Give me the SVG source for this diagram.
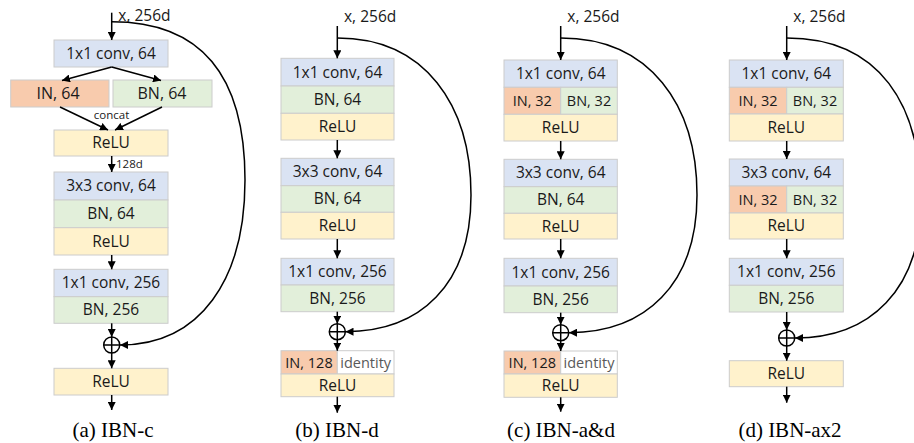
<svg xmlns="http://www.w3.org/2000/svg" width="914" height="443" viewBox="0 0 914 443">
<defs>
<marker id="ah" viewBox="0 0 10 10" refX="10" refY="5" markerWidth="8" markerHeight="8" markerUnits="userSpaceOnUse" orient="auto">
<path d="M0,0 L10,5 L0,10 z" fill="#000"/>
</marker>
<style>
rect{stroke:#cccccc;stroke-width:1}
.cv{fill:#dae3f3}
.bn{fill:#e2efda}
.re{fill:#fff2cc}
.in{fill:#f8cbad}
.id{fill:#ffffff}
text{font-family:"Open Sans","DejaVu Sans",sans-serif;fill:#1a1a1a}
.t{font-size:15.5px;text-anchor:middle}
.s{font-size:14.5px;text-anchor:middle}
.b{font-size:16px;text-anchor:middle}
.g{fill:#595959}
.x{font-size:15.5px}
.sm{font-size:11.5px}
.cap{font-family:"Liberation Serif","Times New Roman",serif;font-size:21px;text-anchor:middle;fill:#000}
.ln{fill:none;stroke:#000;stroke-width:1.5;marker-end:url(#ah)}
.cu{fill:none;stroke:#000;stroke-width:1.5;marker-end:url(#ah)}
.pl{fill:#fff;stroke:#000;stroke-width:1.5}
.pc{stroke:#000;stroke-width:1.5}
</style>
</defs>

<!-- Panel (a) -->
<g id="a-input"><text class="x" x="118.3" y="20.7">x, 256d</text></g>
<g id="a-conv1"><rect class="cv" x="54" y="40" width="114" height="27"/><text class="t" x="111" y="58.8">1x1 conv, 64</text></g>
<g id="a-in64"><rect class="in" x="10.7" y="80" width="98.3" height="27"/><text class="b" x="58" y="99.3">IN, 64</text></g>
<g id="a-bn64"><rect class="bn" x="113" y="80" width="99" height="27"/><text class="b" x="162" y="99.3">BN, 64</text></g>
<g id="a-concat"><text class="sm" x="111.5" y="119.3" text-anchor="middle">concat</text></g>
<g id="a-relu1"><rect class="re" x="54" y="130" width="114" height="26"/><text class="t" x="111" y="148.3">ReLU</text></g>
<g id="a-128d"><text class="sm" x="116" y="168">128d</text></g>
<g id="a-conv2"><rect class="cv" x="54" y="172" width="114" height="28"/><text class="t" x="111" y="191.3">3x3 conv, 64</text></g>
<g id="a-bn2"><rect class="bn" x="54" y="200" width="114" height="27.7"/><text class="t" x="111" y="219.1">BN, 64</text></g>
<g id="a-relu2"><rect class="re" x="54" y="227.7" width="114" height="27.3"/><text class="t" x="111" y="246.6">ReLU</text></g>
<g id="a-conv3"><rect class="cv" x="54" y="269.3" width="114" height="27.4"/><text class="t" x="111" y="288.3">1x1 conv, 256</text></g>
<g id="a-bn3"><rect class="bn" x="54" y="296.7" width="114" height="26.6"/><text class="t" x="111" y="315.3">BN, 256</text></g>
<g id="a-relu3"><rect class="re" x="54" y="368.3" width="114" height="26.7"/><text class="t" x="111" y="387">ReLU</text></g>
<g id="a-caption"><text class="cap" x="113" y="437">(a) IBN-c</text></g>

<!-- Panel (b) -->
<g id="b-input"><text class="x" x="344" y="21.7">x, 256d</text></g>
<g id="b-conv1"><rect class="cv" x="281" y="58.3" width="113" height="27.7"/><text class="t" x="337.5" y="77.5">1x1 conv, 64</text></g>
<g id="b-bn1"><rect class="bn" x="281" y="86" width="113" height="27.3"/><text class="t" x="337.5" y="105">BN, 64</text></g>
<g id="b-relu1"><rect class="re" x="281" y="113.3" width="113" height="26.7"/><text class="t" x="337.5" y="132">ReLU</text></g>
<g id="b-conv2"><rect class="cv" x="281" y="158.3" width="113" height="27.4"/><text class="t" x="337.5" y="177.3">3x3 conv, 64</text></g>
<g id="b-bn2"><rect class="bn" x="281" y="185.7" width="113" height="26.6"/><text class="t" x="337.5" y="204.3">BN, 64</text></g>
<g id="b-relu2"><rect class="re" x="281" y="212.3" width="113" height="26.7"/><text class="t" x="337.5" y="231">ReLU</text></g>
<g id="b-conv3"><rect class="cv" x="281" y="258.3" width="113" height="26.7"/><text class="t" x="337.5" y="277">1x1 conv, 256</text></g>
<g id="b-bn3"><rect class="bn" x="281" y="285" width="113" height="26.7"/><text class="t" x="337.5" y="303.7">BN, 256</text></g>
<g id="b-in128"><rect class="in" x="281" y="350.7" width="56.3" height="23.3"/><text class="s" x="309" y="367.5">IN, 128</text></g>
<g id="b-identity"><rect class="id" x="337.3" y="350.7" width="56.7" height="23.3"/><text class="s g" x="365.7" y="367.5">identity</text></g>
<g id="b-relu3"><rect class="re" x="281" y="374" width="113" height="22.7"/><text class="t" x="337.5" y="390.7">ReLU</text></g>
<g id="b-caption"><text class="cap" x="337" y="437">(b) IBN-d</text></g>

<!-- Panel (c) -->
<g id="c-input"><text class="x" x="567.3" y="21.7">x, 256d</text></g>
<g id="c-conv1"><rect class="cv" x="504" y="60" width="113.3" height="27.3"/><text class="t" x="560.7" y="79">1x1 conv, 64</text></g>
<g id="c-in32"><rect class="in" x="504" y="87.3" width="56.7" height="27"/><text class="s" x="532.3" y="105.8">IN, 32</text></g>
<g id="c-bn32"><rect class="bn" x="560.7" y="87.3" width="56.6" height="27"/><text class="s" x="589" y="105.8">BN, 32</text></g>
<g id="c-relu1"><rect class="re" x="504" y="114.3" width="113.3" height="26.7"/><text class="t" x="560.7" y="133">ReLU</text></g>
<g id="c-conv2"><rect class="cv" x="504" y="159.3" width="113.3" height="27.4"/><text class="t" x="560.7" y="178.3">3x3 conv, 64</text></g>
<g id="c-bn2"><rect class="bn" x="504" y="186.7" width="113.3" height="26.6"/><text class="t" x="560.7" y="205.3">BN, 64</text></g>
<g id="c-relu2"><rect class="re" x="504" y="213.3" width="113.3" height="25.7"/><text class="t" x="560.7" y="231.5">ReLU</text></g>
<g id="c-conv3"><rect class="cv" x="504" y="258.3" width="113.3" height="27.7"/><text class="t" x="560.7" y="277.5">1x1 conv, 256</text></g>
<g id="c-bn3"><rect class="bn" x="504" y="286" width="113.3" height="26.7"/><text class="t" x="560.7" y="304.7">BN, 256</text></g>
<g id="c-in128"><rect class="in" x="504" y="351" width="56.7" height="23"/><text class="s" x="532.3" y="367.5">IN, 128</text></g>
<g id="c-identity"><rect class="id" x="560.7" y="351" width="56.6" height="23"/><text class="s g" x="589" y="367.5">identity</text></g>
<g id="c-relu3"><rect class="re" x="504" y="374" width="113.3" height="23.3"/><text class="t" x="560.7" y="391">ReLU</text></g>
<g id="c-caption"><text class="cap" x="561" y="437">(c) IBN-a&amp;d</text></g>

<!-- Panel (d) -->
<g id="d-input"><text class="x" x="793.3" y="21.7">x, 256d</text></g>
<g id="d-conv1"><rect class="cv" x="729.3" y="60" width="114" height="27.3"/><text class="t" x="786.3" y="79">1x1 conv, 64</text></g>
<g id="d-in32a"><rect class="in" x="729.3" y="87.3" width="57.4" height="26.7"/><text class="s" x="758" y="105.7">IN, 32</text></g>
<g id="d-bn32a"><rect class="bn" x="786.7" y="87.3" width="56.6" height="26.7"/><text class="s" x="815" y="105.7">BN, 32</text></g>
<g id="d-relu1"><rect class="re" x="729.3" y="114" width="114" height="27"/><text class="t" x="786.3" y="132.8">ReLU</text></g>
<g id="d-conv2"><rect class="cv" x="729.3" y="159" width="114" height="27"/><text class="t" x="786.3" y="177.8">3x3 conv, 64</text></g>
<g id="d-in32b"><rect class="in" x="729.3" y="186" width="57.4" height="27"/><text class="s" x="758" y="204.5">IN, 32</text></g>
<g id="d-bn32b"><rect class="bn" x="786.7" y="186" width="56.6" height="27"/><text class="s" x="815" y="204.5">BN, 32</text></g>
<g id="d-relu2"><rect class="re" x="729.3" y="213" width="114" height="26"/><text class="t" x="786.3" y="231.3">ReLU</text></g>
<g id="d-conv3"><rect class="cv" x="729.3" y="258.3" width="114" height="27"/><text class="t" x="786.3" y="277.1">1x1 conv, 256</text></g>
<g id="d-bn3"><rect class="bn" x="729.3" y="285.3" width="114" height="26.7"/><text class="t" x="786.3" y="304">BN, 256</text></g>
<g id="d-relu3"><rect class="re" x="729.3" y="360.7" width="114" height="26"/><text class="t" x="786.3" y="379">ReLU</text></g>
<g id="d-caption"><text class="cap" x="790" y="437">(d) IBN-ax2</text></g>

<!-- Sum nodes -->
<g id="a-sum"><circle class="pl" cx="111.7" cy="345" r="8"/><path class="pc" d="M103.7,345 H119.7 M111.7,337 V353"/></g>
<g id="b-sum"><circle class="pl" cx="337.3" cy="331.7" r="8"/><path class="pc" d="M329.3,331.7 H345.3 M337.3,323.7 V339.7"/></g>
<g id="c-sum"><circle class="pl" cx="560.7" cy="332.7" r="8"/><path class="pc" d="M552.7,332.7 H568.7 M560.7,324.7 V340.7"/></g>
<g id="d-sum"><circle class="pl" cx="786.7" cy="338" r="8"/><path class="pc" d="M778.7,338 H794.7 M786.7,330 V346"/></g>

<!-- Connectors -->
<g id="connectors">
<path class="ln" d="M111.7,12.7 V40"/>
<path class="ln" d="M111.7,67 L62,80.5"/>
<path class="ln" d="M111.7,67 L161,80.5"/>
<path class="ln" d="M60,107 L108,130"/>
<path class="ln" d="M162,107 L115,130"/>
<path class="ln" d="M111.7,156 V172"/>
<path class="ln" d="M111.7,255 V269.3"/>
<path class="ln" d="M111.7,323.3 V337"/>
<path class="ln" d="M111.7,353 V368.3"/>
<path class="ln" d="M111.7,395 V410"/>
<path class="cu" d="M111.7,21.7 C205,21.7 245,80 245,180 C245,280 200,345 120,345"/>

<path class="ln" d="M337.3,26 V58.3"/>
<path class="ln" d="M337.3,140 V158.3"/>
<path class="ln" d="M337.3,239 V258.3"/>
<path class="ln" d="M337.3,311.7 V323.7"/>
<path class="ln" d="M337.3,339.7 V350.7"/>
<path class="ln" d="M337.3,396.7 V412.7"/>
<path class="cu" d="M337.3,38 C425,38 471,105 471,195 C471,285 420,331.7 345.5,331.7"/>

<path class="ln" d="M560.7,26 V60"/>
<path class="ln" d="M560.7,141 V159.3"/>
<path class="ln" d="M560.7,239 V258.3"/>
<path class="ln" d="M560.7,312.7 V324.7"/>
<path class="ln" d="M560.7,340.7 V351"/>
<path class="ln" d="M560.7,397.3 V411.7"/>
<path class="cu" d="M560.7,38 C650,38 697,105 697,195 C697,285 645,332.7 569,332.7"/>

<path class="ln" d="M786.7,26 V60"/>
<path class="ln" d="M786.7,141 V159"/>
<path class="ln" d="M786.7,239 V258.3"/>
<path class="ln" d="M786.7,312 V330"/>
<path class="ln" d="M786.7,346 V360.7"/>
<path class="ln" d="M786.7,386.7 V402.7"/>
<path class="cu" d="M786.7,38 C880,38 921,105 921,200 C921,290 870,338 795,338"/>
</g>
</svg>
